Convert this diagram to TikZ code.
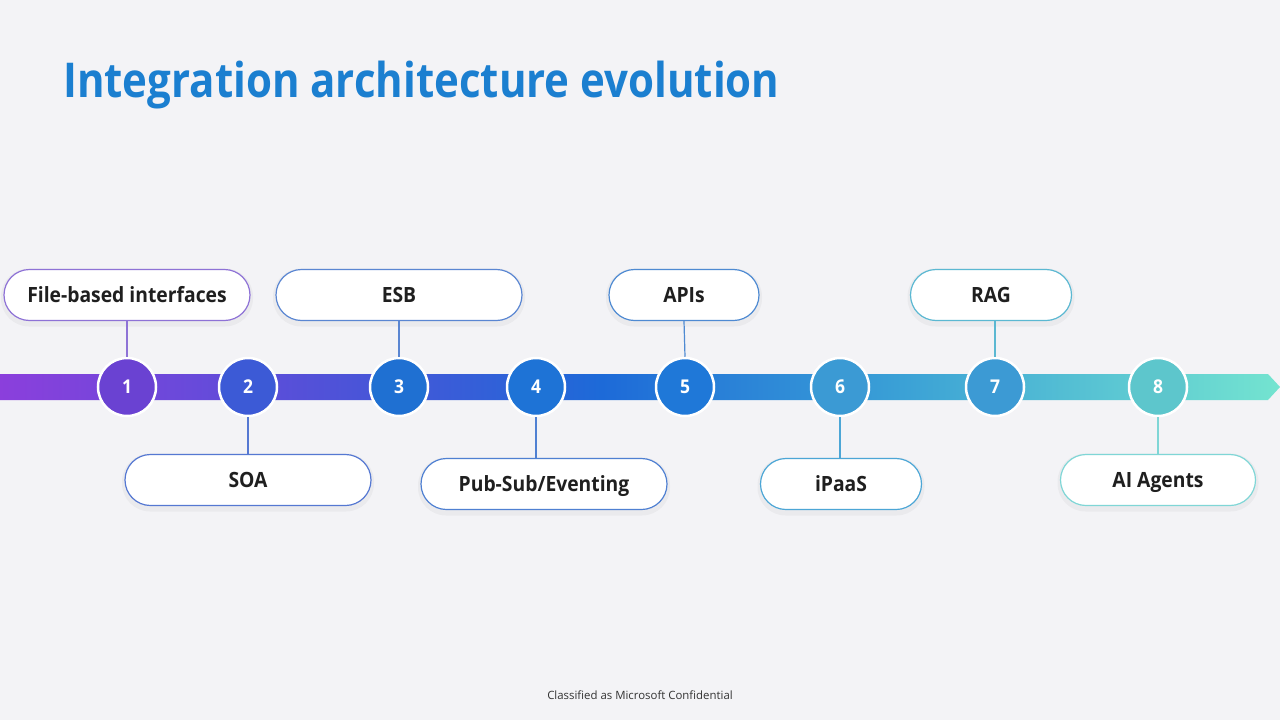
\documentclass[tikz,border=0pt]{standalone}
\usepackage{fontspec}
\setmainfont{Open Sans}
\newfontfamily\semib{Open Sans}[FakeStretch=0.92]
\newfontfamily\titlef{Open Sans}[FakeStretch=0.875]
\definecolor{bg}{HTML}{F3F3F6}
\definecolor{titleblue}{HTML}{1B7FD0}
\definecolor{b0}{HTML}{8B3FDC}
\definecolor{b1}{HTML}{4F52D8}
\definecolor{b2}{HTML}{1D6AD8}
\definecolor{b3}{HTML}{3AA0D6}
\definecolor{b4}{HTML}{74E4D0}
\definecolor{c1}{HTML}{6A42D2}
\definecolor{c2}{HTML}{3C5AD6}
\definecolor{c3}{HTML}{1F70D2}
\definecolor{c4}{HTML}{1E73D6}
\definecolor{c5}{HTML}{1F78D8}
\definecolor{c6}{HTML}{3B9AD4}
\definecolor{c7}{HTML}{3C9AD4}
\definecolor{c8}{HTML}{5DC6CC}
\definecolor{l1}{HTML}{8E72D6}
\definecolor{l2}{HTML}{5578D2}
\definecolor{l3}{HTML}{5A86D2}
\definecolor{l4}{HTML}{4F80D2}
\definecolor{l5}{HTML}{4E8AD2}
\definecolor{l6}{HTML}{4CA6D6}
\definecolor{l7}{HTML}{5BB8D2}
\definecolor{l8}{HTML}{7FD6D6}
\pgfdeclarehorizontalshading{timeline}{100bp}{color(0bp)=(b0); color(25bp)=(b0); color(38bp)=(b1); color(48.5bp)=(b2); color(60bp)=(b3); color(75bp)=(b4); color(100bp)=(b4)}
\tikzset{
  pill/.style={draw=#1, line width=1.2pt, fill=white, rounded corners=25.5pt,
    minimum height=51pt, inner sep=0pt, text height=15pt, text depth=-1pt,
    font=\semib\bfseries\fontsize{21}{24}\selectfont, text=black!88},
  stepdot/.style={circle, fill=#1, draw=white, line width=2.5pt, minimum size=58pt, inner sep=0pt,
    text height=13.6pt, text depth=0pt,
    text=white, font=\semib\bfseries\fontsize{19}{22}\selectfont},
  link/.style={draw=#1, line width=1.2pt},
  shadowpill/.style={fill=black, opacity=0.035, rounded corners=28pt, draw=none}
}
\begin{document}
\begin{tikzpicture}[x=1pt,y=-1pt]
\fill[bg] (0,0) rectangle (1280,720);
\useasboundingbox (0,0) rectangle (1280,720);
% title
\node[anchor=base west, inner sep=0pt, text=titleblue, font=\titlef\bfseries\fontsize{48}{56}\selectfont] (title) at (63,97) {Integration architecture evolution};
% timeline bar
\shade[shading=timeline] (0,374) -- (1268,374) -- (1280,387) -- (1268,400) -- (0,400) -- cycle;
% shadows of pills
\foreach \cx/\cy/\w in {127/295/246, 399/295/246, 684/295/150, 991/295/161, 248/480/246, 544/484/246, 841/484/161, 1158/480/195}{
  \fill[shadowpill] (\cx-\w/2-3,\cy-25.5-1) rectangle (\cx+\w/2+3,\cy+25.5+6);
}
% pills
\node[pill=l1, minimum width=246pt] (p1) at (127,295) {File-based interfaces};
\node[pill=l3, minimum width=246pt] (p3) at (399,295) {ESB};
\node[pill=l5, minimum width=150pt] (p5) at (684,295) {APIs};
\node[pill=l7, minimum width=161pt] (p7) at (991,295) {RAG};
\node[pill=l2, minimum width=246pt] (p2) at (248,480) {SOA};
\node[pill=l4, minimum width=246pt] (p4) at (544,484) {Pub-Sub/Eventing};
\node[pill=l6, minimum width=161pt] (p6) at (841,484) {iPaaS};
\node[pill=l8, minimum width=195pt] (p8) at (1158,480) {AI Agents};
% circles
\node[stepdot=c1] (n1) at (127,387) {1};
\node[stepdot=c2] (n2) at (248,387) {2};
\node[stepdot=c3] (n3) at (399,387) {3};
\node[stepdot=c4] (n4) at (536,387) {4};
\node[stepdot=c5] (n5) at (685,387) {5};
\node[stepdot=c6] (n6) at (840,387) {6};
\node[stepdot=c7] (n7) at (995,387) {7};
\node[stepdot=c8] (n8) at (1158,387) {8};
% connectors
\draw[link=l1] (p1.south) -- (n1.north);
\draw[link=l3] (p3.south) -- (n3.north);
\draw[link=l5] (p5.south) -- (n5.north);
\draw[link=l7] (n7.north |- p7.south) -- (n7.north);
\draw[link=l2] (n2.south) -- (p2.north);
\draw[link=l4] (n4.south) -- (n4.south |- p4.north);
\draw[link=l6] (n6.south) -- (n6.south |- p6.north);
\draw[link=l8] (n8.south) -- (p8.north);
% footer
\node[font=\fontsize{11.4}{14}\selectfont, text=black!80, inner sep=0pt] (foot) at (640,695) {Classified as Microsoft Confidential};
\end{tikzpicture}
\end{document}
